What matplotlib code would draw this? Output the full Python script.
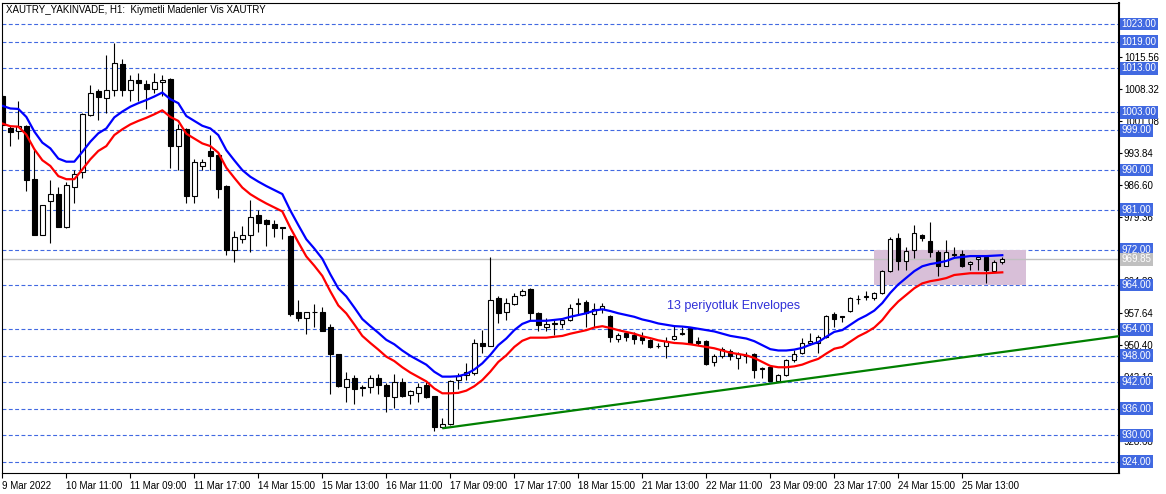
import numpy as np
import matplotlib
matplotlib.use("Agg")
import matplotlib.pyplot as plt
from matplotlib.patches import Rectangle

plt.rcParams['font.family'] = ['Liberation Sans', 'DejaVu Sans']

# H1 candles, XAUTRY, 9 Mar 12:00 -> 25 Mar 2022
opens = [1006.7, 999.6, 998.8, 999.9, 988.0, 975.4, 983.0, 984.5, 977.1, 986.1,
         989.5, 1002.4, 1007.8, 1006.2, 1008.0, 1013.9, 1008.0, 1010.3, 1009.4, 1008.2,
         1009.8, 1010.6, 995.5, 999.3, 984.2, 991.0, 994.3, 993.4, 986.4, 971.9,
         974.3, 975.2, 979.8, 978.7, 977.8, 977.0, 975.1, 958.0, 956.6, 957.9,
         958.0, 954.4, 948.3, 941.0, 942.9, 940.8, 941.0, 942.9, 941.4, 938.6,
         942.1, 939.1, 939.5, 941.5, 938.8, 931.8, 932.5, 942.5, 943.7, 944.0,
         951.0, 950.3, 961.0, 958.0, 959.7, 961.7, 963.2, 957.6, 954.6, 955.2,
         955.2, 956.1, 959.8, 960.2, 957.4, 958.5, 957.0, 951.9, 953.1, 952.7,
         952.2, 951.6, 950.3, 950.1, 951.7, 953.0, 954.3, 951.4, 951.3, 946.6,
         947.9, 949.0, 947.6, 948.2, 948.4, 944.9, 945.4, 942.4, 943.7, 947.1,
         948.6, 950.9, 950.9, 952.2, 957.4, 956.9, 958.2, 960.8, 961.4, 961.1,
         962.2, 967.1, 974.6, 969.5, 971.8, 975.4, 974.0, 971.5, 968.4, 970.9,
         971.0, 968.8, 969.8, 970.3, 967.1, 969.2]
highs = [1007.2, 1000.0, 1005.6, 1000.1, 994.9, 982.1, 987.7, 986.1, 987.3, 990.1,
         1002.8, 1009.1, 1008.4, 1016.0, 1018.8, 1015.0, 1011.5, 1011.9, 1010.3, 1011.9,
         1011.5, 1010.9, 1000.5, 999.6, 992.5, 992.5, 997.9, 993.8, 986.6, 976.3,
         977.3, 983.2, 981.0, 979.0, 978.7, 977.1, 975.3, 960.6, 957.9, 959.6,
         959.1, 955.2, 948.5, 944.4, 943.7, 941.4, 943.7, 943.9, 941.9, 943.9,
         942.9, 940.3, 941.9, 942.1, 939.0, 933.9, 942.6, 944.0, 946.3, 951.9,
         953.8, 970.3, 961.5, 961.0, 962.1, 963.0, 963.4, 958.0, 956.5, 956.1,
         956.5, 959.6, 961.0, 960.6, 959.9, 959.9, 957.2, 953.1, 953.2, 953.4,
         953.4, 951.9, 950.8, 952.2, 955.0, 954.4, 954.6, 952.3, 951.6, 948.4,
         949.9, 949.5, 948.8, 948.8, 948.6, 945.4, 945.6, 943.9, 947.3, 949.4,
         952.0, 953.1, 952.8, 957.3, 958.0, 957.1, 961.3, 961.8, 962.6, 962.4,
         967.3, 974.8, 975.8, 972.7, 977.6, 975.5, 978.2, 971.8, 974.2, 972.5,
         972.0, 969.4, 970.7, 970.5, 969.7, 970.3]
lows = [999.6, 995.5, 997.1, 985.3, 975.3, 975.3, 973.4, 977.0, 976.9, 982.5,
        988.1, 1002.3, 1001.4, 1002.8, 1006.8, 1006.8, 1005.5, 1005.7, 1003.8, 1007.5,
        1006.7, 990.5, 990.0, 982.6, 982.6, 990.1, 990.0, 983.6, 970.7, 969.2,
        973.4, 971.5, 975.9, 972.9, 974.8, 974.5, 957.1, 955.9, 952.9, 954.4,
        953.6, 939.3, 941.0, 937.6, 937.0, 939.0, 939.5, 939.4, 935.4, 936.3,
        938.7, 937.0, 937.6, 938.5, 931.1, 931.6, 932.3, 940.6, 942.5, 943.6,
        948.6, 950.1, 955.5, 956.1, 959.5, 961.5, 956.2, 953.5, 953.5, 952.7,
        954.2, 955.9, 957.2, 954.6, 954.6, 957.6, 951.2, 951.2, 951.4, 950.7,
        950.7, 949.7, 949.7, 947.4, 951.6, 952.7, 950.7, 950.5, 946.0, 945.8,
        947.5, 947.1, 945.1, 946.4, 943.0, 943.0, 942.2, 942.2, 943.5, 946.7,
        948.5, 950.5, 948.6, 952.0, 954.5, 955.6, 958.0, 959.7, 960.7, 960.7,
        962.0, 966.9, 967.5, 967.5, 970.1, 974.0, 970.3, 966.0, 968.2, 970.1,
        968.0, 967.5, 967.5, 964.5, 966.9, 968.8]
closes = [1000.2, 998.7, 1000.0, 987.8, 975.4, 982.0, 984.5, 977.1, 986.6, 989.0,
          1002.6, 1007.5, 1006.4, 1008.0, 1014.1, 1008.0, 1010.3, 1009.6, 1008.3, 1009.8,
          1010.3, 995.5, 999.3, 984.2, 991.7, 991.7, 993.2, 985.8, 971.9, 974.8,
          975.4, 979.3, 978.0, 977.7, 976.8, 976.9, 957.5, 956.6, 957.8, 958.0,
          953.7, 948.3, 941.2, 942.7, 940.6, 940.9, 942.9, 941.4, 938.8, 942.1,
          939.0, 940.0, 941.0, 938.6, 931.9, 932.5, 942.4, 943.4, 944.4, 951.0,
          950.3, 960.6, 957.7, 959.9, 961.6, 962.7, 957.6, 955.0, 955.2, 955.3,
          956.1, 958.7, 959.9, 957.6, 958.5, 959.3, 952.2, 952.7, 952.3, 951.7,
          951.6, 949.9, 950.3, 951.4, 952.5, 953.1, 950.9, 951.0, 946.2, 947.9,
          949.5, 947.9, 948.4, 948.0, 944.7, 945.2, 942.4, 943.6, 947.1, 948.4,
          950.9, 951.4, 952.2, 957.1, 956.4, 956.7, 961.1, 960.9, 961.6, 962.1,
          967.2, 974.5, 969.4, 971.6, 975.8, 974.6, 971.5, 968.2, 971.4, 970.8,
          968.4, 969.2, 970.3, 967.3, 969.2, 969.85]

# 13 period moving average behind the Envelopes, deviation in percent
env_mid = [1002.5, 1001.9, 1001.8, 1000.0, 996.7, 994.2, 992.9, 990.6, 989.9, 989.9,
           992.1, 994.4, 996.3, 997.4, 999.9, 1001.2, 1002.3, 1003.1, 1003.8, 1004.6,
           1005.5, 1004.0, 1003.1, 1000.2, 999.1, 998.0, 997.4, 995.9, 992.5, 990.2,
           988.0, 986.5, 985.4, 984.4, 983.5, 982.6, 978.9, 975.6, 972.4, 970.3,
           968.0, 964.5, 961.3, 959.5, 957.0, 954.4, 952.8, 951.3, 949.7, 948.7,
           947.3, 946.1, 945.1, 944.1, 942.5, 941.4, 941.4, 941.5, 942.0, 943.0,
           944.4, 946.3, 948.5, 950.0, 951.9, 953.3, 954.0, 954.0, 954.0, 954.2,
           954.4, 954.9, 955.3, 955.7, 956.3, 956.6, 956.2, 955.7, 955.3, 954.9,
           954.3, 953.9, 953.4, 953.1, 952.8, 952.7, 952.5, 952.2, 951.9, 951.6,
           951.1, 950.6, 950.3, 950.0, 949.4, 948.5, 947.6, 947.3, 947.3, 947.5,
           947.9, 948.6, 949.2, 950.4, 951.5, 951.9, 953.1, 954.3, 955.2, 956.3,
           958.0, 960.3, 962.2, 963.7, 965.2, 966.3, 966.8, 967.1, 967.5, 968.2,
           968.4, 968.6, 968.6, 968.6, 968.7, 968.8]
env_dev = 0.2

levels = [1023, 1019, 1013, 1003, 999, 990, 981, 972, 964, 954, 948, 942, 936, 930, 924]
price_ticks = [1015.56, 1008.32, 1001.08, 993.84, 986.60, 979.36, 972.12,
               964.88, 957.64, 950.40, 943.16, 935.92, 928.68]
last_price = 969.85

date_bars = list(range(0, 121, 8))
date_labels = ["9 Mar 2022", "10 Mar 11:00", "11 Mar 09:00", "11 Mar 17:00",
               "14 Mar 15:00", "15 Mar 13:00", "16 Mar 11:00", "17 Mar 09:00",
               "17 Mar 17:00", "18 Mar 15:00", "21 Mar 13:00", "22 Mar 11:00",
               "23 Mar 09:00", "23 Mar 17:00", "24 Mar 15:00", "25 Mar 13:00"]

trend_a = (55, 931.6)
trend_b = (96, 941.7)
zone_bars = (108.96, 128.0)
zone_prices = (964.0, 971.8)
title = "XAUTRY_YAKINVADE, H1:  Kiymetli Madenler Vis XAUTRY"
note = "13 periyotluk Envelopes"
note_at = (83.1, 959.3)

W, H = 1166, 494
fig = plt.figure(figsize=(W / 100, H / 100), dpi=100)
ax = fig.add_axes([2 / W, 1 - 473 / H, (1119 - 2) / W, (473 - 3) / H])
ax.set_xlim(-0.04, 139.59)
ax.set_ylim(921.5, 1027.75)

o = np.array(opens); h = np.array(highs); l = np.array(lows); c = np.array(closes)
x = np.arange(len(o))
up = c >= o

# levels and current price
for lv in levels:
    ax.axhline(lv, color='#4169E1', lw=0.8, ls=(0, (3.5, 2.2)), zorder=1)
ax.add_patch(Rectangle((zone_bars[0], zone_prices[0]), zone_bars[1] - zone_bars[0],
                       zone_prices[1] - zone_prices[0], fc='#D8BFD8', ec='none', zorder=1.5))
ax.axhline(last_price, color='#C0C0C0', lw=1.0, zorder=1.8)

# candles
ax.vlines(x, l, h, color='black', lw=0.8, zorder=3)
ax.bar(x[up], (c - o)[up], bottom=o[up], width=0.55, color='white',
       edgecolor='black', lw=0.8, zorder=4)
ax.bar(x[~up], (o - c)[~up], bottom=c[~up], width=0.55, color='black',
       edgecolor='black', lw=0.8, zorder=4)

# envelopes
mid = np.array(env_mid)
ax.plot(x, mid * (1 + env_dev / 100), color='#0000FF', lw=1.6, zorder=5)
ax.plot(x, mid * (1 - env_dev / 100), color='#FF0000', lw=1.6, zorder=5)

# trend line (ray to the right)
slope = (trend_b[1] - trend_a[1]) / (trend_b[0] - trend_a[0])
x_end = ax.get_xlim()[1]
ax.plot([trend_a[0], x_end], [trend_a[1], trend_a[1] + slope * (x_end - trend_a[0])],
        color='#008000', lw=1.6, zorder=5, solid_capstyle='butt')

ax.text(note_at[0], note_at[1], note, color='#3030D8', fontsize=9, va='center', ha='left', zorder=6)

# axes
for s in ax.spines.values():
    s.set_linewidth(0.8)
ax.spines['right'].set_linewidth(1.5)
ax.set_xticks(date_bars)
ax.set_xticklabels(date_labels, ha='left')
ax.tick_params(axis='x', direction='out', length=3.6, width=0.8, pad=2, labelsize=7)
ax.yaxis.tick_right()
ax.set_yticks(price_ticks)
ax.set_yticklabels([f"{v:.2f}" for v in price_ticks])
ax.tick_params(axis='y', direction='out', length=2.5, width=0.8, pad=1, labelsize=7)

ytr = ax.get_yaxis_transform()
for lv in levels:
    ax.text(1.0025, lv, f"{lv:.2f}", transform=ytr, ha='left', va='center', color='white',
            fontsize=7, zorder=10, clip_on=False,
            bbox=dict(boxstyle='square,pad=0.15', fc='#4169E1', ec='none'))
ax.text(1.0025, last_price, f"{last_price:.2f}", transform=ytr, ha='left', va='center',
        color='white', fontsize=7, zorder=10, clip_on=False,
        bbox=dict(boxstyle='square,pad=0.15', fc='#C0C0C0', ec='none'))

fig.text(6 / W, 1 - 10 / H, title, fontsize=7, va='center', ha='left')

fig.savefig("out.png", dpi=100)
